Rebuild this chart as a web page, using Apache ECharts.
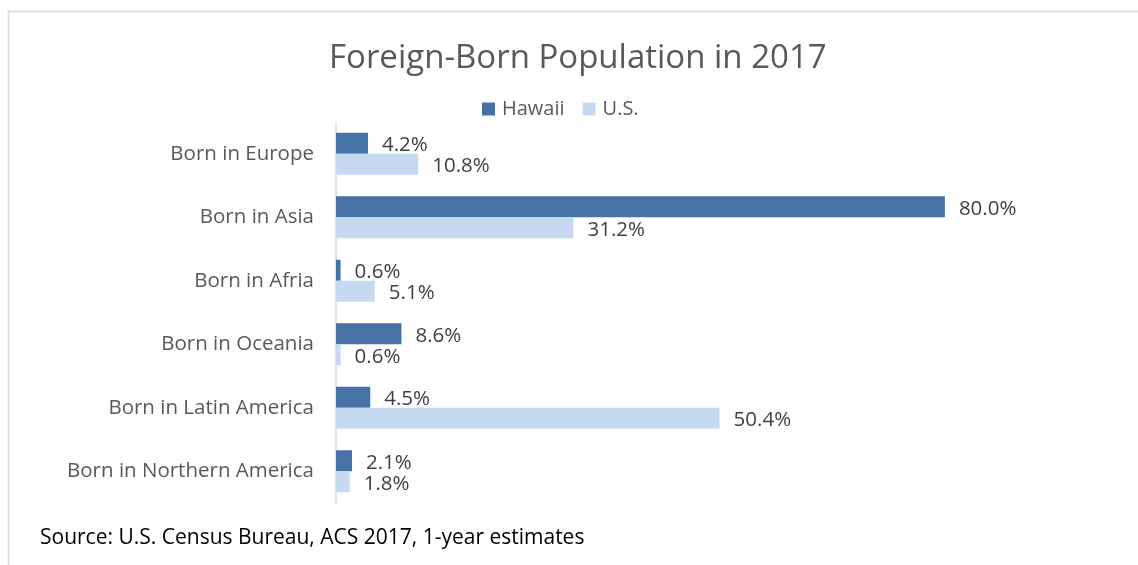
<!DOCTYPE html>
<html>
<head>
<meta charset="utf-8">
<script src="https://cdn.jsdelivr.net/npm/echarts@6/dist/echarts.min.js"></script>
<style>
html, body { margin: 0; padding: 0; background: #fff; }
#chart { width: 1138px; height: 565px; }
</style>
</head>
<body>
<div id="chart"></div>
<script>
var categories = ['Born in Europe', 'Born in Asia', 'Born in Afria', 'Born in Oceania', 'Born in Latin America', 'Born in Northern America'];
var hawaii = [4.2, 80.0, 0.6, 8.6, 4.5, 2.1];
var us = [10.8, 31.2, 5.1, 0.6, 50.4, 1.8];
var seriesNames = ['Hawaii', 'U.S.'];

var chart = echarts.init(document.getElementById('chart'));
var font = '"Open Sans", sans-serif';

var labelOpt = {
    show: true,
    position: 'right',
    distance: 14,
    offset: [0, 2],
    color: '#404040',
    fontSize: 20.5,
    fontFamily: font,
    formatter: function (p) { return p.value.toFixed(1) + '%'; }
};

var option = {
    animation: false,
    title: {
        text: 'Foreign-Born Population in 2017',
        left: 329,
        top: 42,
        padding: 0,
        textStyle: { fontSize: 33, fontWeight: 'normal', color: '#595959', fontFamily: font }
    },
    legend: {
        data: seriesNames,
        top: 94,
        left: 477,
        itemWidth: 13,
        itemHeight: 13,
        itemGap: 18,
        icon: 'rect',
        textStyle: { fontSize: 20, color: '#595959', fontFamily: font, padding: [0, 0, 0, 2] }
    },
    grid: { left: 336, top: 122, width: 685, height: 381 },
    xAxis: {
        type: 'value',
        min: 0,
        max: 90,
        show: false,
        splitLine: { show: false }
    },
    yAxis: {
        type: 'category',
        data: categories,
        inverse: true,
        axisLine: { show: true, lineStyle: { color: '#d9d9d9', width: 1.5 } },
        axisTick: { show: false },
        axisLabel: { fontSize: 20.5, color: '#595959', fontFamily: font, margin: 22 }
    },
    series: [
        {
            name: seriesNames[0],
            type: 'bar',
            data: hawaii,
            barWidth: 21,
            barGap: '0%',
            itemStyle: { color: '#4672A6' },
            label: labelOpt
        },
        {
            name: seriesNames[1],
            type: 'bar',
            data: us,
            barWidth: 21,
            barGap: '0%',
            itemStyle: { color: '#C7D9F0' },
            label: labelOpt
        }
    ],
    graphic: [
        {
            type: 'rect',
            shape: { x: 8.5, y: 11.5, width: 1200, height: 600 },
            style: { fill: 'none', stroke: '#d9d9d9', lineWidth: 1.5 },
            silent: true
        },
        {
            type: 'text',
            left: 40,
            top: 528,
            style: { text: 'Source: U.S. Census Bureau, ACS 2017, 1-year estimates', fontSize: 21, fontFamily: font, fill: '#000' }
        }
    ]
};
chart.setOption(option);
</script>
</body>
</html>
